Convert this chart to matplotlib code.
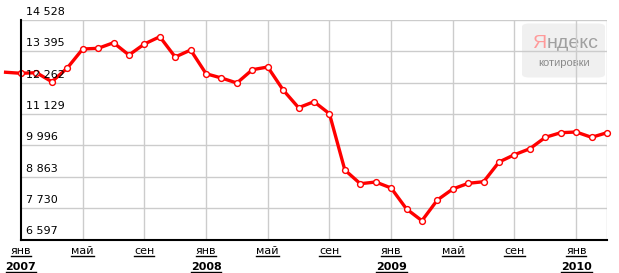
import matplotlib
matplotlib.use("Agg")
import matplotlib.pyplot as plt
import matplotlib.transforms as mtransforms
from matplotlib.patches import FancyBboxPatch
from matplotlib.lines import Line2D
import numpy as np

# monthly close values, Dec 2006 .. Mar 2010 (month 0 = Jan 2007)
months = np.arange(-1, 39)
values = [12640,
          12602, 12624, 12298, 12793, 13480, 13505, 13707, 13263, 13660, 13924, 13191, 13444,
          12587, 12432, 12251, 12732, 12829, 11998, 11359, 11576, 11142, 9108, 8613, 8674,
          8458, 7699, 7276, 8024, 8422, 8627, 8685, 9397, 9661, 9878, 10289, 10456,
          10481, 10289, 10456]

y_ticks = [6597, 7730, 8863, 9996, 11129, 12262, 13395, 14528]
x_ticks = [0, 4, 8, 12, 16, 20, 24, 28, 32, 36]
month_labels = ['янв', 'май', 'сен', 'янв', 'май', 'сен', 'янв', 'май', 'сен', 'янв']
year_labels = {0: '2007', 12: '2008', 24: '2009', 36: '2010'}

plt.rcParams['font.family'] = ['DejaVu Sans']

fig = plt.figure(figsize=(6.19, 2.73), dpi=100)
W, H = 619, 273
ax = fig.add_axes([21 / W, (H - 239.5) / H, (607 - 21) / W, (239.5 - 20) / H])

ax.set_xlim(0, 38)
ax.set_ylim(y_ticks[0], y_ticks[-1])

# Yandex logo (under the grid)
box = FancyBboxPatch((522 / W, (H - 77.5) / H), 83 / W, 54 / H,
                     boxstyle='round,pad=0,rounding_size=0.012',
                     transform=fig.transFigure, facecolor='#f0f0f0',
                     edgecolor='none', zorder=0, clip_on=False)
ax.add_artist(box)
ya = ax.text(532 / W, (H - 44) / H, 'Я', color='#ff9a9a', fontsize=14,
             family='Liberation Sans', va='center', ha='left',
             transform=fig.transFigure, zorder=0.5)
fig.canvas.draw()
ya_bb = ya.get_window_extent(fig.canvas.get_renderer())
ax.text(ya_bb.x1 / W, (H - 44) / H, 'ндекс', color='#a0a0a0', fontsize=14,
        family='Liberation Sans', va='center', ha='left',
        transform=fig.transFigure, zorder=0.5)
ax.text(564 / W, (H - 63) / H, 'котировки', color='#8a8a8a', fontsize=8,
        family='Liberation Sans', va='center', ha='center',
        transform=fig.transFigure, zorder=0.5)

# grid
for yv in y_ticks:
    ax.axhline(yv, color='#cccccc', lw=1, zorder=1)
for xv in x_ticks[1:]:
    ax.axvline(xv, color='#cccccc', lw=1, zorder=1)
ax.axvline(38, color='#cccccc', lw=1, zorder=1)

for s in ['top', 'right']:
    ax.spines[s].set_visible(False)
for s in ['left', 'bottom']:
    ax.spines[s].set_linewidth(1.5)
    ax.spines[s].set_zorder(5)
ax.set_xticks([])
ax.set_yticks([])

# line
ax.plot(months, values, color='#ff0000', lw=2.4, zorder=3, clip_on=False,
        solid_joinstyle='round')
ax.plot(months[1:], values[1:], ls='none', marker='o', ms=4.2,
        mfc='white', mec='#ff0000', mew=1.0, zorder=4, clip_on=False)

# y labels inside the plot, above each grid line
off = mtransforms.offset_copy(ax.get_yaxis_transform(), fig=fig, x=5, y=3, units='dots')
for yv in y_ticks:
    ax.text(0, yv, f"{yv:,}".replace(',', ' '), transform=off, fontsize=8,
            ha='left', va='bottom', color='#000000', zorder=6)

# x labels, underlined
under = []
for xv, lab in zip(x_ticks, month_labels):
    t = ax.text(xv, -7 / 219.5, lab, transform=ax.get_xaxis_transform(),
                ha='center', va='top', fontsize=8, clip_on=False)
    under.append(t)
    if xv in year_labels:
        t2 = ax.text(xv, -23 / 219.5, year_labels[xv], transform=ax.get_xaxis_transform(),
                     ha='center', va='top', fontsize=8, fontweight='bold', clip_on=False)
        under.append(t2)

fig.canvas.draw()
r = fig.canvas.get_renderer()
for t in under:
    bb = t.get_window_extent(r)
    y0 = bb.y0 + 1
    fig.lines.append(Line2D([bb.x0 / W, bb.x1 / W], [y0 / H, y0 / H],
                            transform=fig.transFigure, color='black', lw=1))

fig.savefig('out.png', dpi=100)
